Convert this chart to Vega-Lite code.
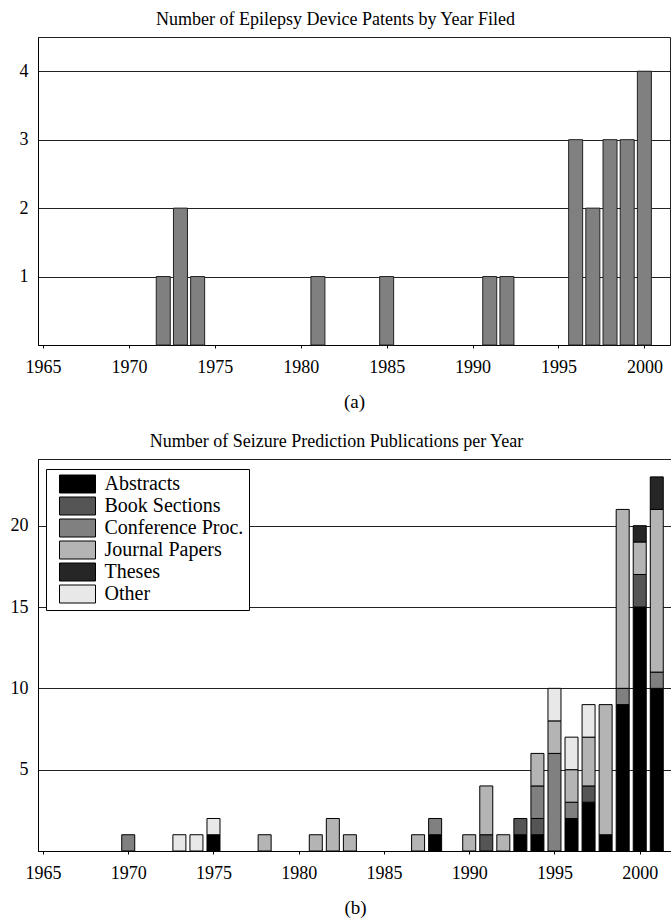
{
  "$schema": "https://vega.github.io/schema/vega-lite/v6.json",
  "padding": {"left": 0, "top": 10, "right": 0, "bottom": 0},
  "background": "white",
  "config": {
    "font": "Liberation Serif",
    "view": {"stroke": "#222", "strokeWidth": 1},
    "axis": {
      "labelFont": "Liberation Serif", "labelFontSize": 18, "labelColor": "#000",
      "titleFont": "Liberation Serif", "titleFontSize": 19, "titleFontWeight": "normal", "titleColor": "#000",
      "domainColor": "#000", "tickColor": "#000", "gridColor": "#222", "gridWidth": 1
    },
    "title": {"font": "Liberation Serif", "fontSize": 18, "fontWeight": "normal", "color": "#000", "anchor": "middle", "frame": "bounds", "offset": 8},
    "concat": {"spacing": 20}
  },
  "resolve": {"legend": {"fill": "independent"}, "scale": {"fill": "independent"}},
  "datasets": {
    "patents": [
      {"year": 1972, "count": 1}, {"year": 1973, "count": 2}, {"year": 1974, "count": 1},
      {"year": 1981, "count": 1}, {"year": 1985, "count": 1}, {"year": 1991, "count": 1},
      {"year": 1992, "count": 1}, {"year": 1996, "count": 3}, {"year": 1997, "count": 2},
      {"year": 1998, "count": 3}, {"year": 1999, "count": 3}, {"year": 2000, "count": 4}
    ],
    "pubs": [
      {"year": 1970, "type": "Conference Proc.", "count": 1},
      {"year": 1973, "type": "Other", "count": 1},
      {"year": 1974, "type": "Other", "count": 1},
      {"year": 1975, "type": "Abstracts", "count": 1},
      {"year": 1975, "type": "Other", "count": 1},
      {"year": 1978, "type": "Journal Papers", "count": 1},
      {"year": 1981, "type": "Journal Papers", "count": 1},
      {"year": 1982, "type": "Journal Papers", "count": 2},
      {"year": 1983, "type": "Journal Papers", "count": 1},
      {"year": 1987, "type": "Journal Papers", "count": 1},
      {"year": 1988, "type": "Abstracts", "count": 1},
      {"year": 1988, "type": "Conference Proc.", "count": 1},
      {"year": 1990, "type": "Journal Papers", "count": 1},
      {"year": 1991, "type": "Book Sections", "count": 1},
      {"year": 1991, "type": "Journal Papers", "count": 3},
      {"year": 1992, "type": "Journal Papers", "count": 1},
      {"year": 1993, "type": "Abstracts", "count": 1},
      {"year": 1993, "type": "Book Sections", "count": 1},
      {"year": 1994, "type": "Abstracts", "count": 1},
      {"year": 1994, "type": "Book Sections", "count": 1},
      {"year": 1994, "type": "Conference Proc.", "count": 2},
      {"year": 1994, "type": "Journal Papers", "count": 2},
      {"year": 1995, "type": "Conference Proc.", "count": 6},
      {"year": 1995, "type": "Journal Papers", "count": 2},
      {"year": 1995, "type": "Other", "count": 2},
      {"year": 1996, "type": "Abstracts", "count": 2},
      {"year": 1996, "type": "Conference Proc.", "count": 1},
      {"year": 1996, "type": "Journal Papers", "count": 2},
      {"year": 1996, "type": "Other", "count": 2},
      {"year": 1997, "type": "Abstracts", "count": 3},
      {"year": 1997, "type": "Book Sections", "count": 1},
      {"year": 1997, "type": "Journal Papers", "count": 3},
      {"year": 1997, "type": "Other", "count": 2},
      {"year": 1998, "type": "Abstracts", "count": 1},
      {"year": 1998, "type": "Journal Papers", "count": 8},
      {"year": 1999, "type": "Abstracts", "count": 9},
      {"year": 1999, "type": "Conference Proc.", "count": 1},
      {"year": 1999, "type": "Journal Papers", "count": 11},
      {"year": 2000, "type": "Abstracts", "count": 15},
      {"year": 2000, "type": "Book Sections", "count": 2},
      {"year": 2000, "type": "Journal Papers", "count": 2},
      {"year": 2000, "type": "Theses", "count": 1},
      {"year": 2001, "type": "Abstracts", "count": 10},
      {"year": 2001, "type": "Conference Proc.", "count": 1},
      {"year": 2001, "type": "Journal Papers", "count": 10},
      {"year": 2001, "type": "Theses", "count": 2}
    ]
  },
  "vconcat": [
    {
      "title": "Number of Epilepsy Device Patents by Year Filed",
      "width": 632,
      "height": 308,
      "data": {"name": "patents"},
      "mark": {"type": "bar", "width": 14, "fill": "#808080", "stroke": "#222", "strokeWidth": 1},
      "encoding": {
        "x": {
          "field": "year", "type": "quantitative",
          "scale": {"domain": [1965, 2001.2], "nice": false, "zero": false},
          "axis": {"title": "(a)", "values": [1965, 1970, 1975, 1980, 1985, 1990, 1995, 2000], "format": "d", "grid": false, "tickSize": 3, "labelPadding": 10, "titlePadding": 16, "labelFlush": false, "labelOverlap": false, "labelFont": "Liberation Serif"}
        },
        "y": {
          "field": "count", "type": "quantitative",
          "scale": {"domain": [0, 4.5], "nice": false},
          "axis": {"title": null, "values": [1, 2, 3, 4], "ticks": false, "labelPadding": 10, "minExtent": 37, "maxExtent": 37, "grid": true, "labelFont": "Liberation Serif"}
        }
      }
    },
    {
      "title": "Number of Seizure Prediction Publications per Year",
      "width": 634,
      "height": 392,
      "data": {"name": "pubs"},
      "transform": [
        {"calculate": "indexof(['Abstracts','Book Sections','Conference Proc.','Journal Papers','Theses','Other'], datum.type)", "as": "ord"}
      ],
      "mark": {"type": "bar", "width": 13, "stroke": "#000", "strokeWidth": 1},
      "encoding": {
        "x": {
          "field": "year", "type": "quantitative",
          "scale": {"domain": [1965, 2001.6], "nice": false, "zero": false},
          "axis": {"title": "(b)", "values": [1965, 1970, 1975, 1980, 1985, 1990, 1995, 2000], "format": "d", "grid": false, "tickSize": 3, "labelPadding": 10, "titlePadding": 16, "labelFlush": false, "labelOverlap": false, "labelFont": "Liberation Serif"}
        },
        "y": {
          "field": "count", "type": "quantitative", "stack": "zero",
          "scale": {"domain": [0, 24.1], "nice": false},
          "axis": {"title": null, "values": [5, 10, 15, 20], "ticks": false, "labelPadding": 10, "minExtent": 37, "maxExtent": 37, "grid": true, "labelFont": "Liberation Serif"}
        },
        "fill": {
          "field": "type", "type": "nominal",
          "scale": {
            "domain": ["Abstracts", "Book Sections", "Conference Proc.", "Journal Papers", "Theses", "Other"],
            "range": ["#000000", "#555555", "#808080", "#b4b4b4", "#262626", "#e8e8e8"]
          },
          "legend": {
            "title": null, "orient": "none", "legendX": 8, "legendY": 10,
            "symbolType": "M-2,-1H2V1H-2Z", "symbolSize": 324, "symbolOffset": 16.5,
            "symbolStrokeColor": "#000", "symbolStrokeWidth": 1, "symbolOpacity": 1,
            "labelFont": "Liberation Serif", "labelFontSize": 20, "labelColor": "#000",
            "labelOffset": 17, "labelLimit": 300, "rowPadding": 0, "padding": 5,
            "strokeColor": "#000", "fillColor": "#fff"
          }
        },
        "order": {"field": "ord", "type": "quantitative"}
      }
    }
  ]
}
